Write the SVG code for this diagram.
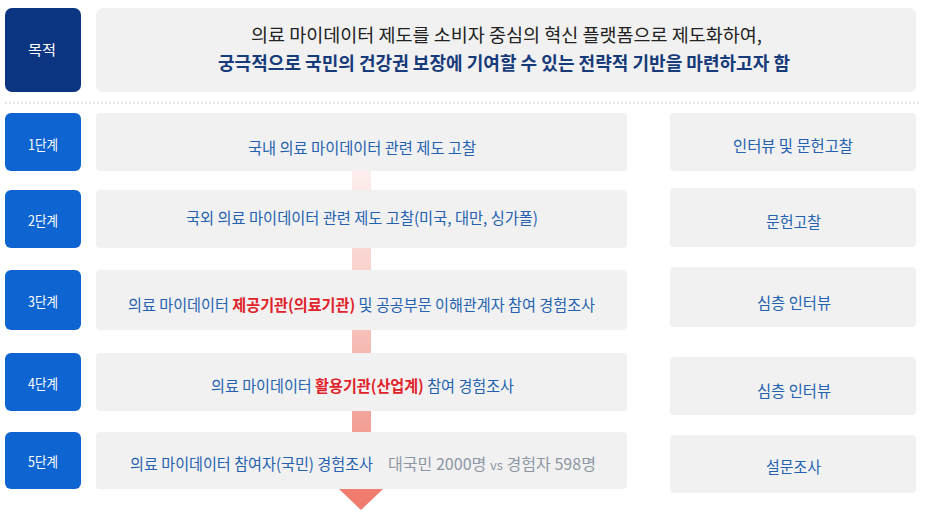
<svg xmlns="http://www.w3.org/2000/svg" width="925" height="523" viewBox="0 0 925 523">
<defs>
<linearGradient id="barGrad" x1="0" y1="171" x2="0" y2="490" gradientUnits="userSpaceOnUse">
<stop offset="0" stop-color="#fdeeed"/>
<stop offset="0.5" stop-color="#f7c0ba"/>
<stop offset="1" stop-color="#f08a7e"/>
</linearGradient>
<style>
text{font-family:"Noto Sans CJK KR","Noto Sans",sans-serif;}
.gbox{fill:#f1f1f1;}
.navy{fill:#0c3581;}
.step{fill:#0e64d0;}
.lbl{fill:#ffffff;font-size:14px;}
.row{fill:#2462b0;font-size:16px;}
.red{fill:#e0232a;font-weight:bold;}
.gray{fill:#8d97a4;font-size:16px;}
.meth{fill:#2462b0;font-size:16px;}
</style>
</defs>
<rect width="925" height="523" fill="#ffffff"/>

<g id="connectors">
<rect x="352" y="171" width="19" height="319" fill="url(#barGrad)"/>
<polygon points="339,489 383,489 361,510" fill="#ef7c6e"/>
</g>

<g id="purpose">
<rect class="navy" x="5" y="8" width="76" height="84" rx="7"/>
<text class="lbl" x="28" y="55" textLength="28" lengthAdjust="spacingAndGlyphs">목적</text>
<rect class="gbox" x="96" y="8" width="820" height="84" rx="7"/>
<text x="251" y="42" font-size="18.5" fill="#222222" textLength="511" lengthAdjust="spacingAndGlyphs">의료 마이데이터 제도를 소비자 중심의 혁신 플랫폼으로 제도화하여,</text>
<text x="218" y="70" font-size="18.5" font-weight="bold" fill="#173b7a" textLength="572" lengthAdjust="spacingAndGlyphs">궁극적으로 국민의 건강권 보장에 기여할 수 있는 전략적 기반을 마련하고자 함</text>
</g>

<line x1="5" y1="103" x2="920" y2="103" stroke="#cfcfcf" stroke-width="1" stroke-dasharray="2,2"/>

<g id="step1">
<rect class="step" x="5" y="113" width="76" height="58" rx="6"/>
<text class="lbl" x="28" y="150" textLength="30" lengthAdjust="spacingAndGlyphs">1단계</text>
<rect class="gbox" x="96" y="113" width="531" height="58" rx="4"/>
<text class="row" x="248" y="154" textLength="228" lengthAdjust="spacingAndGlyphs">국내 의료 마이데이터 관련 제도 고찰</text>
</g>
<g id="method1">
<rect class="gbox" x="670" y="113" width="246" height="58" rx="4"/>
<text class="meth" x="733" y="152" textLength="120" lengthAdjust="spacingAndGlyphs">인터뷰 및 문헌고찰</text>
</g>

<g id="step2">
<rect class="step" x="5" y="190" width="76" height="58" rx="6"/>
<text class="lbl" x="28" y="226" textLength="30" lengthAdjust="spacingAndGlyphs">2단계</text>
<rect class="gbox" x="96" y="190" width="531" height="58" rx="4"/>
<text class="row" x="186" y="224" textLength="352" lengthAdjust="spacingAndGlyphs">국외 의료 마이데이터 관련 제도 고찰(미국, 대만, 싱가폴)</text>
</g>
<g id="method2">
<rect class="gbox" x="670" y="188" width="246" height="59" rx="4"/>
<text class="meth" x="766" y="228" textLength="55" lengthAdjust="spacingAndGlyphs">문헌고찰</text>
</g>

<g id="step3">
<rect class="step" x="5" y="270" width="76" height="60" rx="6"/>
<text class="lbl" x="28" y="307" textLength="30" lengthAdjust="spacingAndGlyphs">3단계</text>
<rect class="gbox" x="96" y="270" width="531" height="60" rx="4"/>
<text class="row" x="128" y="311" textLength="467" lengthAdjust="spacingAndGlyphs">의료 마이데이터 <tspan class="red">제공기관(의료기관)</tspan> 및 공공부문 이해관계자 참여 경험조사</text>
</g>
<g id="method3">
<rect class="gbox" x="670" y="267" width="246" height="60" rx="4"/>
<text class="meth" x="757" y="309" textLength="74" lengthAdjust="spacingAndGlyphs">심층 인터뷰</text>
</g>

<g id="step4">
<rect class="step" x="5" y="353" width="76" height="58" rx="6"/>
<text class="lbl" x="28" y="389" textLength="30" lengthAdjust="spacingAndGlyphs">4단계</text>
<rect class="gbox" x="96" y="353" width="531" height="58" rx="4"/>
<text class="row" x="211" y="392" textLength="303" lengthAdjust="spacingAndGlyphs">의료 마이데이터 <tspan class="red">활용기관(산업계)</tspan> 참여 경험조사</text>
</g>
<g id="method4">
<rect class="gbox" x="670" y="357" width="246" height="58" rx="4"/>
<text class="meth" x="757" y="397" textLength="74" lengthAdjust="spacingAndGlyphs">심층 인터뷰</text>
</g>

<g id="step5">
<rect class="step" x="5" y="432" width="76" height="57" rx="6"/>
<text class="lbl" x="28" y="467" textLength="30" lengthAdjust="spacingAndGlyphs">5단계</text>
<rect class="gbox" x="96" y="432" width="531" height="57" rx="4"/>
<text class="row" x="130" y="470" textLength="243" lengthAdjust="spacingAndGlyphs">의료 마이데이터 참여자(국민) 경험조사</text>
<text class="gray" x="388" y="470" textLength="208" lengthAdjust="spacingAndGlyphs">대국민 2000명 <tspan font-size="13">vs</tspan> 경험자 598명</text>
</g>
<g id="method5">
<rect class="gbox" x="670" y="435" width="246" height="58" rx="4"/>
<text class="meth" x="766" y="473" textLength="55" lengthAdjust="spacingAndGlyphs">설문조사</text>
</g>
</svg>
